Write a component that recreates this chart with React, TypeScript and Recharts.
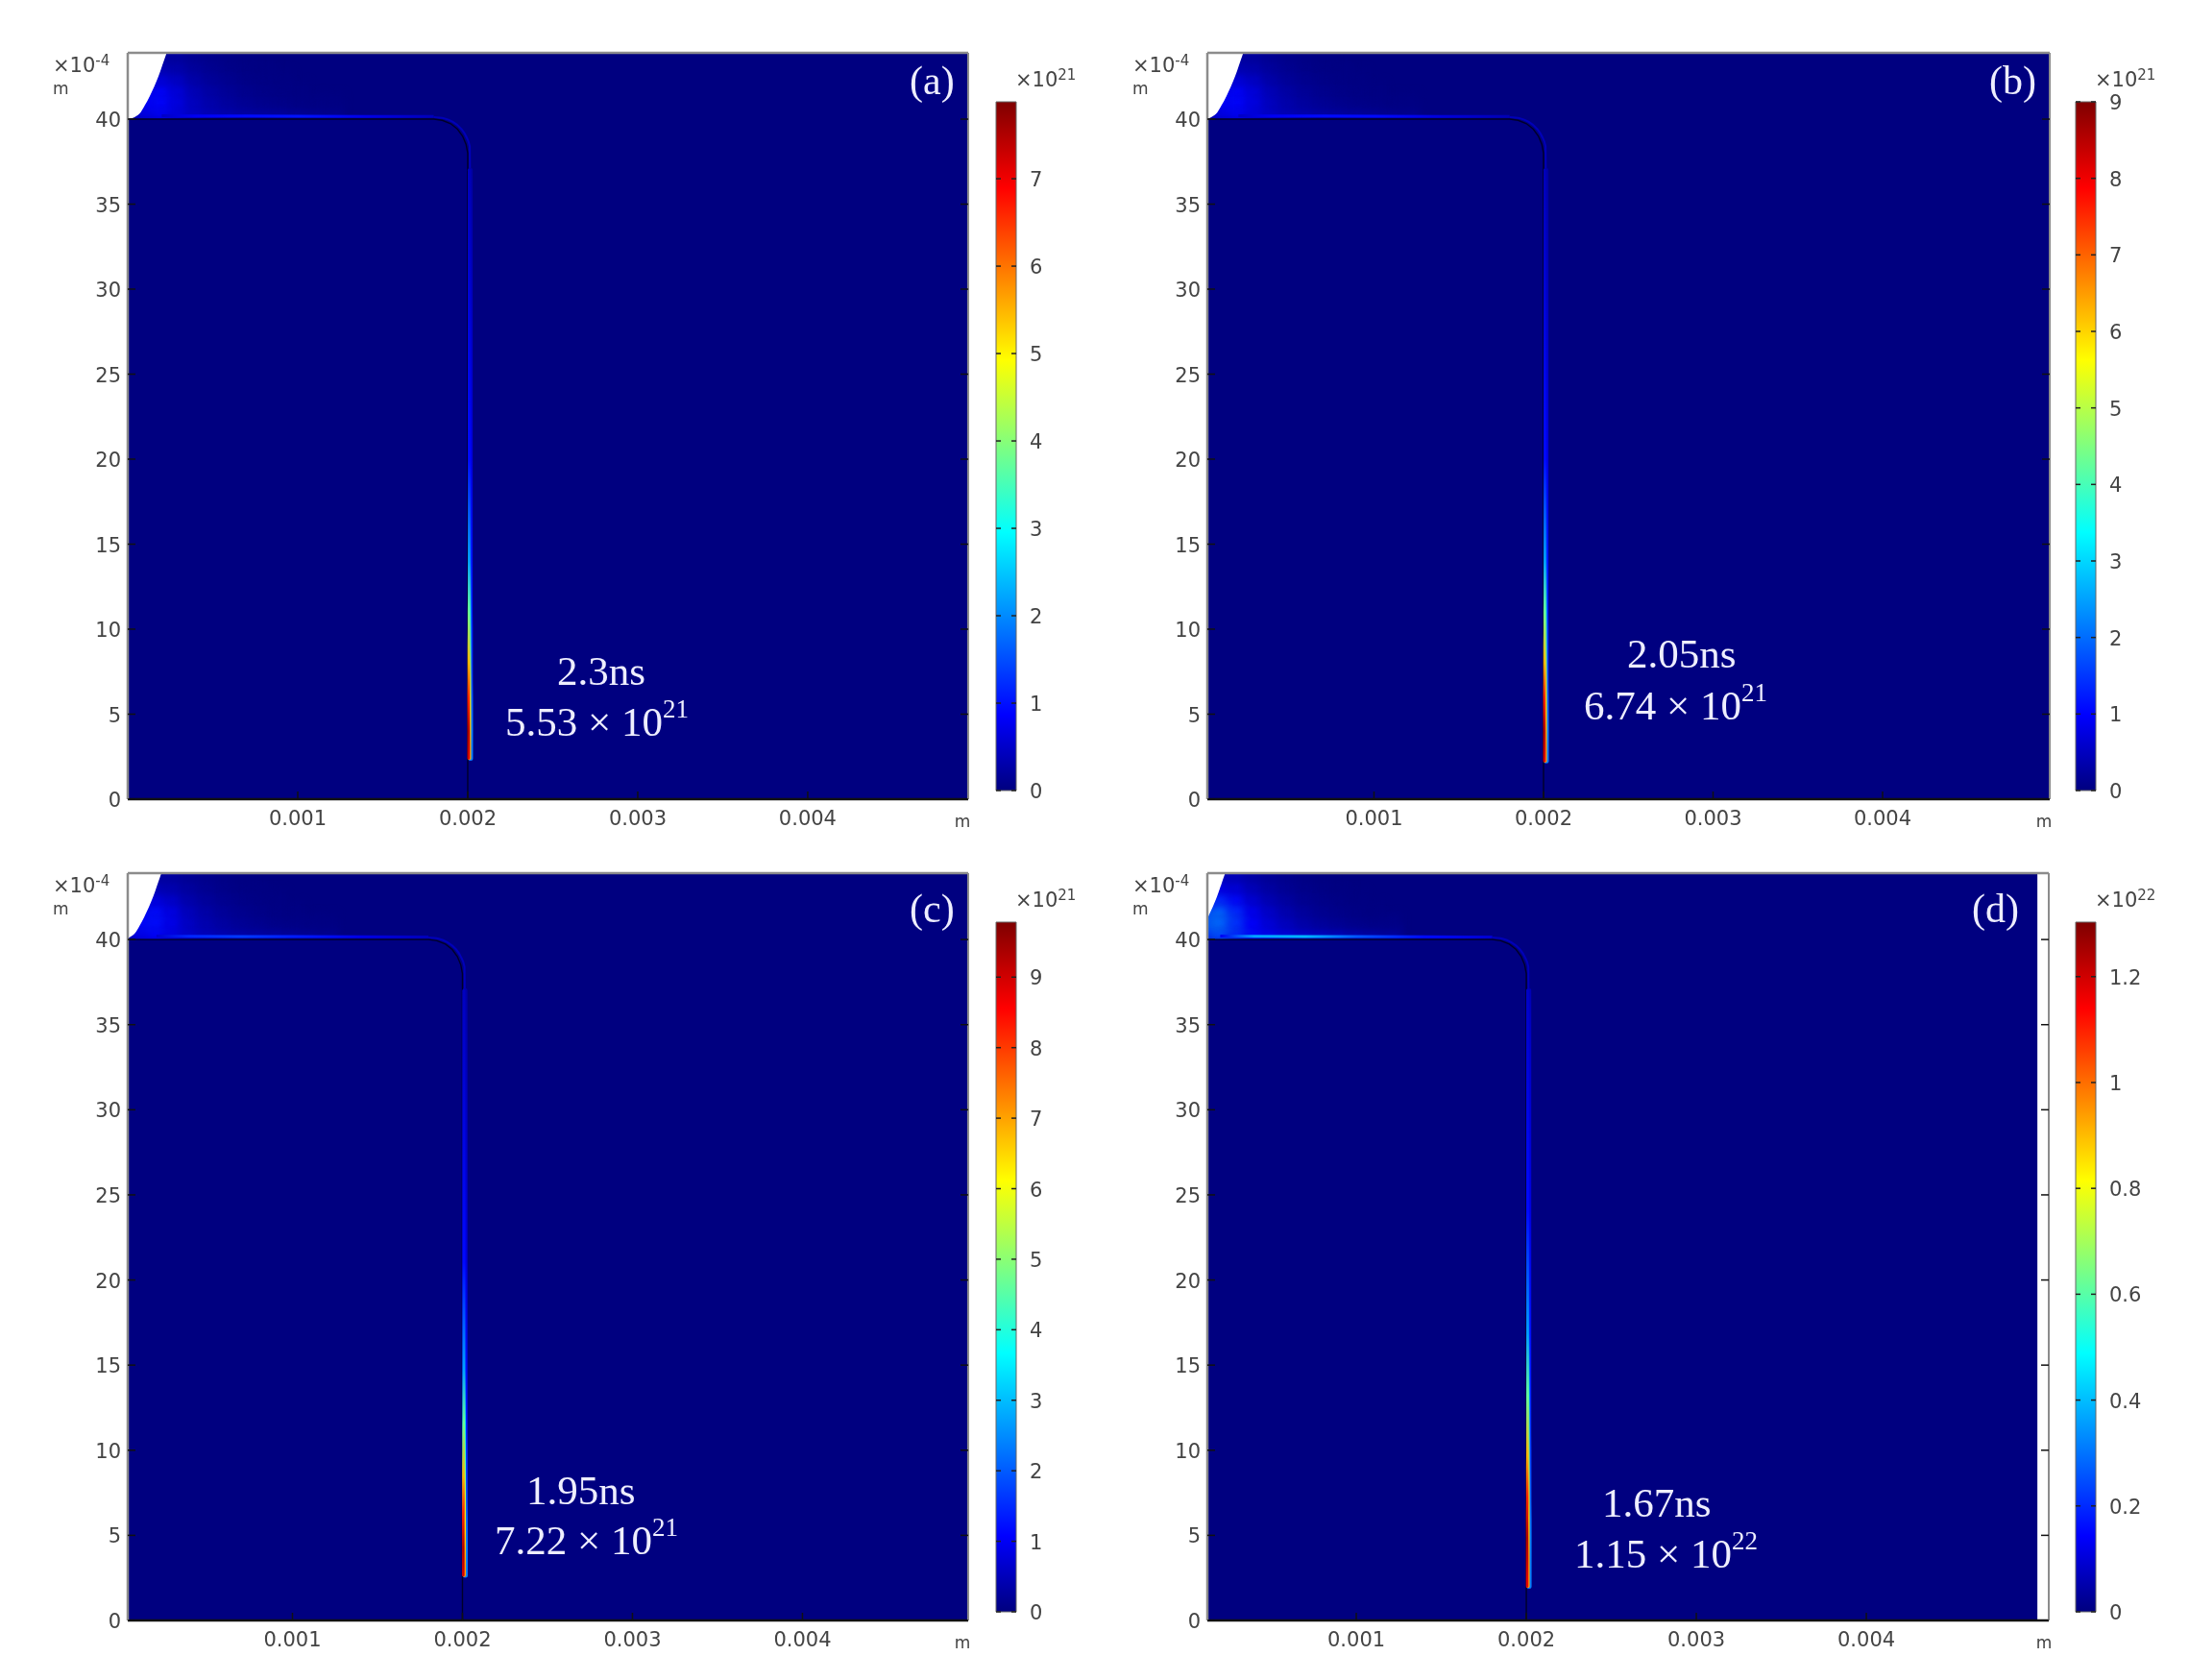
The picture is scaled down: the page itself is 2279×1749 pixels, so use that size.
import { Area, Bar, BarChart, ComposedChart, Line, Scatter, XAxis, YAxis } from "recharts";

const panelTags = ["(a)", "(b)", "(c)", "(d)"];
const panelTimes = ["2.3ns", "2.05ns", "1.95ns", "1.67ns"];
const panelPeaks = ["5.53 × 10", "6.74 × 10", "7.22 × 10", "1.15 × 10"];
const panelPeakExp = ["21", "21", "21", "22"];
const barExponents = ["21", "21", "21", "22"];

const xTicks = [0.001, 0.002, 0.003, 0.004];
const yTicks = [0, 5, 10, 15, 20, 25, 30, 35, 40];
const yTop = 43.9;

const xStart = [0, 0.000017, 0.000031, 0.000124];
const xEnd = [0.004944, 0.004986, 0.004975, 0.005073];
const fieldEnd = [0.004944, 0.004986, 0.004975, 0.005006];

const barMax = [7.88, 9.0, 9.78, 1.303];
const barTicks = [
  [0, 1, 2, 3, 4, 5, 6, 7],
  [0, 1, 2, 3, 4, 5, 6, 7, 8, 9],
  [0, 1, 2, 3, 4, 5, 6, 7, 8, 9],
  [0, 0.2, 0.4, 0.6, 0.8, 1, 1.2],
];

// electrode outline
const wallX = [0, 0.0018, 0.00185, 0.0019, 0.00194, 0.00197, 0.00199, 0.002, 0.002];
const wallY = [40, 40, 39.93, 39.73, 39.41, 39, 38.52, 38, 0];

// needle cut-out in the top left corner
const needleX = [0, 0.00004, 0.000076, 0.0001, 0.00013, 0.00018, 0.000227, 0.00024];
const needleY = [40, 40.12, 40.4, 40.8, 41.36, 42.5, 43.85, 44.2];

// glow next to the needle, rows bottom to top, levels relative to the panel's peak
const glowXs = [0.0001, 0.0002, 0.0003, 0.0004, 0.0005, 0.0006, 0.0007, 0.0008, 0.0009, 0.001, 0.0011, 0.0012];
const glowYs = [40.3, 41.0, 41.7, 42.4, 43.1, 43.8];
const glowLevels = [
  [0.7, 0.85, 0.7, 0.55, 0.45, 0.38, 0.32, 0.28, 0.25, 0.2, 0.16, 0.12],
  [0.95, 1, 0.75, 0.5, 0.36, 0.26, 0.18, 0.13, 0.09, 0.06, 0.04, 0.03],
  [0.9, 1, 0.72, 0.45, 0.3, 0.2, 0.13, 0.08, 0.05, 0.03, 0.01, 0],
  [0.5, 0.72, 0.55, 0.34, 0.22, 0.14, 0.08, 0.05, 0.03, 0.01, 0, 0],
  [0.25, 0.42, 0.36, 0.24, 0.15, 0.09, 0.05, 0.03, 0.01, 0, 0, 0],
  [0.08, 0.25, 0.24, 0.16, 0.1, 0.06, 0.03, 0.01, 0, 0, 0, 0],
];
const glowPeak = [0.115, 0.115, 0.125, 0.22];

// thin bright layer over the flat top of the electrode
const streakX = [0.0002, 0.0004, 0.0007, 0.001, 0.0014, 0.0018];
const streakLevels = [
  [0.06, 0.1, 0.12, 0.13, 0.09, 0.05],
  [0.06, 0.1, 0.12, 0.12, 0.08, 0.045],
  [0.07, 0.15, 0.17, 0.14, 0.09, 0.05],
  [0.1, 0.28, 0.3, 0.2, 0.12, 0.07],
];
const ringX = [0.0018, 0.00186, 0.00191, 0.00196, 0.00199, 0.002012, 0.002014];
const ringY = [40.12, 40.05, 39.85, 39.45, 39, 38.4, 36];

// layer down the vertical wall, three strips from outer to inner
const sheathY = [37, 30, 25, 20, 16, 14, 12, 11, 10, 9, 8, 7, 6, 5, 4, 3, 2];
const sheathOuterX = [0.002015, 0.002015, 0.002015, 0.002015, 0.002015, 0.002015, 0.002015, 0.002015, 0.002016, 0.002016, 0.002016, 0.002016, 0.002017, 0.002017, 0.002017, 0.002017, 0.002017];
const sheathMidX = [0.00201, 0.00201, 0.00201, 0.00201, 0.00201, 0.00201, 0.00201, 0.00201, 0.00201, 0.00201, 0.00201, 0.00201, 0.00201, 0.00201, 0.00201, 0.00201, 0.00201];
const sheathInnerX = [0.002008, 0.002008, 0.002008, 0.002008, 0.002008, 0.002008, 0.002008, 0.002007, 0.002007, 0.002006, 0.002006, 0.002006, 0.002005, 0.002005, 0.002005, 0.002005, 0.002005];
const outerStopsY = [37, 28, 20, 12, 8, 4, 2];
const outerStopsV = [0.03, 0.06, 0.08, 0.13, 0.17, 0.24, 0.24];
const midStopsY = [37, 30, 20, 14, 11, 9, 7, 5, 3, 2];
const midStopsV = [0.04, 0.06, 0.1, 0.18, 0.33, 0.44, 0.56, 0.66, 0.72, 0.72];
const innerStopsY = [37, 20, 14, 11, 8, 6, 4, 3, 2];
const innerStopsV = [0.05, 0.12, 0.28, 0.48, 0.7, 0.84, 0.95, 0.93, 0.9];
const sheathTip = [2.4, 2.25, 2.65, 1.95];
const sheathReach = [1, 1, 1.05, 1.2];

const jetStops: [number, number[]][] = [
  [0, [0, 0, 127]],
  [0.11, [0, 0, 255]],
  [0.375, [0, 255, 255]],
  [0.625, [255, 255, 0]],
  [0.875, [255, 0, 0]],
  [1, [127, 0, 0]],
];

function jet(v: number) {
  for (let i = 1; i < jetStops.length; i++) {
    const [v1, c1] = jetStops[i];
    const [v0, c0] = jetStops[i - 1];
    if (v <= v1) {
      const t = Math.max(0, (v - v0) / (v1 - v0));
      return `rgb(${c0.map((c, k) => Math.round(c + (c1[k] - c) * t)).join(",")})`;
    }
  }
  return "rgb(127,0,0)";
}

const NAVY = "#000080";
const TEXT = "#444";
const FRAME = "#8c8c8c";
const AXIS_FONT = "'DejaVu Sans', sans-serif";
const PX_PER_UNIT = 17.7;

// plot boxes on the page
const plotLeft = [133, 1257, 133, 1257];
const plotRight = [1008, 2134, 1008, 2133];
const plotTop = [55, 55, 909, 909];
const plotBottom = [832, 832, 1687, 1687];
const barLeft = [1037, 2161, 1037, 2161];
const barTop = [106, 106, 960, 960];
const barBottom = [823, 823, 1678, 1678];

function LeftTick({ x, y, payload }: any) {
  return (
    <g>
      <line x1={x} x2={x + 8} y1={y} y2={y} stroke="#111" strokeWidth={1.5} />
      <text x={x - 7} y={y + 1} textAnchor="end" dominantBaseline="central" fill={TEXT} fontSize={21} fontFamily={AXIS_FONT}>
        {payload.value}
      </text>
    </g>
  );
}

function RightTick({ x, y }: any) {
  return <line x1={x - 8} x2={x} y1={y} y2={y} stroke="#111" strokeWidth={1.5} />;
}

function BottomTick({ x, y, payload }: any) {
  return (
    <g>
      <line x1={x} x2={x} y1={y - 8} y2={y} stroke="#111" strokeWidth={1.5} />
      <text x={x} y={y + 27} textAnchor="middle" fill={TEXT} fontSize={21} fontFamily={AXIS_FONT}>
        {payload.value.toFixed(3)}
      </text>
    </g>
  );
}

function TopTick({ x, y }: any) {
  return <line x1={x} x2={x} y1={y} y2={y + 8} stroke="#111" strokeWidth={1.5} />;
}

function BarTick({ x, y, payload }: any) {
  return (
    <g>
      <line x1={x - 21} x2={x - 16} y1={y} y2={y} stroke="#222" strokeWidth={1.5} />
      <line x1={x - 5} x2={x} y1={y} y2={y} stroke="#222" strokeWidth={1.5} />
      <text x={x + 14} y={y + 1} dominantBaseline="central" fill={TEXT} fontSize={21} fontFamily={AXIS_FONT}>
        {payload.value}
      </text>
    </g>
  );
}

function GlowCell({ cx, cy, payload }: any) {
  return (
    <rect
      x={cx - 11}
      y={cy - 8}
      width={22}
      height={16}
      fill={jet(payload.v)}
      style={{ filter: "blur(5px)" }}
    />
  );
}

function Panel({ i }: { i: number }) {
  const chartLeft = plotLeft[i] - 133;
  const chartTop = plotTop[i] - 55;
  const width = plotRight[i] - chartLeft + 30;
  const height = plotBottom[i] - chartTop + 50;
  // one pixel of each side goes to the axis strip
  const margin = { top: 54, left: 132, right: 29, bottom: 49 };
  const pxY = (y: number) => 55 + (yTop - y) * PX_PER_UNIT;

  const fieldRows = [
    { x: xStart[i], band: [0, yTop] },
    { x: fieldEnd[i], band: [0, yTop] },
  ];
  const needleRows = needleX.map((x, k) => ({ x, band: [needleY[k], 44.2] }));
  const bodyRows = wallX.slice(0, 7).map((x, k) => ({ x, band: [0, wallY[k]] }));
  const wallRows = wallX.map((x, k) => ({ x, y: wallY[k] }));
  const glowRows = glowYs.flatMap((y, r) =>
    glowXs.map((x, c) => ({ x, y, v: glowLevels[r][c] * glowPeak[i] })).filter((p) => p.v > 0.002),
  );
  const streakRows = streakX.map((x, k) => ({ x, y: 40.2 - k * 0.01 }));
  const ringRows = ringX.map((x, k) => ({ x, y: ringY[k] }));
  const sheathYs = sheathY.filter((y) => y > sheathTip[i]).concat(sheathTip[i]);
  const outerRows = sheathYs.map((y, k) => ({ x: sheathOuterX[k], y }));
  const midRows = sheathYs.map((y, k) => ({ x: sheathMidX[k], y }));
  const innerRows = sheathYs.map((y, k) => ({ x: sheathInnerX[k], y }));
  const streakSpan = streakX[streakX.length - 1] - streakX[0];

  const sheathGradient = (id: string, ys: number[], vs: number[], reach: number) => (
    <linearGradient id={id} gradientUnits="userSpaceOnUse" x1={0} x2={0} y1={pxY(40)} y2={pxY(0)}>
      {ys.map((y, k) => (
        <stop key={k} offset={Math.min(1, 1 - (y * reach) / 40)} stopColor={jet(vs[k])} />
      ))}
    </linearGradient>
  );

  return (
    <div style={{ position: "absolute", left: chartLeft, top: chartTop }}>
      <ComposedChart width={width} height={height} margin={margin}>
        <defs>
          <linearGradient id={`streak-${i}`} x1={0} x2={1} y1={0} y2={0}>
            {streakLevels[i].map((v, k) => (
              <stop key={k} offset={(streakX[k] - streakX[0]) / streakSpan} stopColor={jet(v)} />
            ))}
          </linearGradient>
          {sheathGradient(`outer-${i}`, outerStopsY, outerStopsV, sheathReach[i])}
          {sheathGradient(`mid-${i}`, midStopsY, midStopsV, sheathReach[i])}
          {sheathGradient(`inner-${i}`, innerStopsY, innerStopsV, sheathReach[i])}
        </defs>

        <XAxis
          type="number"
          dataKey="x"
          domain={[xStart[i], xEnd[i]]}
          ticks={xTicks}
          interval={0}
          height={1}
          allowDataOverflow
          tick={BottomTick}
          tickLine={false}
          tickSize={0}
          tickMargin={0}
          axisLine={{ stroke: "#111", strokeWidth: 2.5 }}
        />
        <XAxis
          xAxisId="top"
          orientation="top"
          type="number"
          domain={[xStart[i], xEnd[i]]}
          ticks={xTicks}
          interval={0}
          height={1}
          allowDataOverflow
          tick={TopTick}
          tickLine={false}
          tickSize={0}
          tickMargin={0}
          axisLine={{ stroke: FRAME, strokeWidth: 2.5 }}
        />
        <YAxis
          type="number"
          dataKey="y"
          domain={[0, yTop]}
          ticks={yTicks}
          interval={0}
          width={1}
          allowDataOverflow
          tick={LeftTick}
          tickLine={false}
          tickSize={0}
          tickMargin={0}
          axisLine={{ stroke: FRAME, strokeWidth: 2.5 }}
        />
        <YAxis
          yAxisId="right"
          orientation="right"
          type="number"
          domain={[0, yTop]}
          ticks={yTicks}
          interval={0}
          width={1}
          allowDataOverflow
          tick={RightTick}
          tickLine={false}
          tickSize={0}
          tickMargin={0}
          axisLine={{ stroke: FRAME, strokeWidth: 2 }}
        />

        <Area data={fieldRows} dataKey="band" type="linear" fill={NAVY} fillOpacity={1} stroke="none" isAnimationActive={false} zIndex={10} />
        <Scatter data={glowRows} shape={GlowCell} isAnimationActive={false} zIndex={20} />
        <Area data={needleRows} dataKey="band" type="monotone" fill="#fff" fillOpacity={1} stroke="none" isAnimationActive={false} zIndex={30} />
        <Area data={bodyRows} dataKey="band" type="linear" fill={NAVY} fillOpacity={1} stroke="none" isAnimationActive={false} zIndex={30} />
        <Line data={streakRows} dataKey="y" type="linear" stroke={`url(#streak-${i})`} strokeWidth={3} dot={false} isAnimationActive={false} zIndex={40} />
        <Line data={ringRows} dataKey="y" type="monotone" stroke={jet(0.05)} strokeWidth={2} dot={false} isAnimationActive={false} zIndex={40} />
        <Line data={wallRows} dataKey="y" type="linear" stroke="#000028" strokeWidth={1.4} dot={false} isAnimationActive={false} zIndex={41} />
        <Line data={outerRows} dataKey="y" type="linear" stroke={`url(#outer-${i})`} strokeWidth={5} strokeLinecap="round" dot={false} isAnimationActive={false} zIndex={42} />
        <Line data={midRows} dataKey="y" type="linear" stroke={`url(#mid-${i})`} strokeWidth={3.5} strokeLinecap="round" dot={false} isAnimationActive={false} zIndex={43} />
        <Line data={innerRows} dataKey="y" type="linear" stroke={`url(#inner-${i})`} strokeWidth={2.6} strokeLinecap="round" dot={false} isAnimationActive={false} zIndex={44} />
      </ComposedChart>
    </div>
  );
}

function ColorBar({ i }: { i: number }) {
  const height = barBottom[i] - barTop[i] + 30;
  const rows = [{ name: "level", value: barMax[i] }];
  return (
    <div style={{ position: "absolute", left: barLeft[i] - 5, top: barTop[i] - 15 }}>
      <BarChart width={80} height={height} data={rows} margin={{ top: 15, bottom: 15, left: 5, right: 53 }} barCategoryGap={0}>
        <defs>
          <linearGradient id={`jet-${i}`} x1={0} x2={0} y1={1} y2={0}>
            {jetStops.map(([v, c]) => (
              <stop key={v} offset={v} stopColor={`rgb(${c.join(",")})`} />
            ))}
          </linearGradient>
        </defs>
        <XAxis dataKey="name" hide />
        <YAxis
          orientation="right"
          type="number"
          domain={[0, barMax[i]]}
          ticks={barTicks[i]}
          interval={0}
          width={1}
          tick={BarTick}
          tickLine={false}
          tickSize={0}
          tickMargin={0}
          axisLine={false}
        />
        <Bar dataKey="value" fill={`url(#jet-${i})`} stroke="#666" strokeWidth={1} isAnimationActive={false} />
      </BarChart>
    </div>
  );
}

// text placed on the page, outside the chart boxes
const tagX = [947, 2071, 947, 2053];
const tagBase = [98, 98, 960, 960];
const timeX = [580, 1694, 548, 1668];
const timeBase = [713, 695, 1566, 1579];
const peakX = [526, 1649, 515, 1639];
const peakBase = [766, 749, 1618, 1632];
const unitX = [1002, 2128, 1002, 2128];
const barExpX = [1057, 2181, 1057, 2181];
const barExpBase = [90, 90, 944, 944];

function Overlay() {
  const serif = "'Liberation Serif', serif";
  return (
    <svg width={2279} height={1749} style={{ position: "absolute", left: 0, top: 0, pointerEvents: "none" }}>
      {panelTags.map((tag, i) => (
        <g key={tag}>
          <text x={tagX[i]} y={tagBase[i]} fill="#eef" fontSize={42} fontFamily={serif}>
            {tag}
          </text>
          <text x={timeX[i]} y={timeBase[i]} fill="#eef" fontSize={43} fontFamily={serif}>
            {panelTimes[i]}
          </text>
          <text x={peakX[i]} y={peakBase[i]} fill="#eef" fontSize={43} fontFamily={serif}>
            {panelPeaks[i]}
            <tspan dy={-19} fontSize={27}>
              {panelPeakExp[i]}
            </tspan>
          </text>
          <text x={plotLeft[i] - 78} y={plotTop[i] + 20} fill={TEXT} fontSize={21} fontFamily={AXIS_FONT}>
            ×10
            <tspan dy={-7} fontSize={15}>
              -4
            </tspan>
          </text>
          <text x={plotLeft[i] - 78} y={plotTop[i] + 43} fill={TEXT} fontSize={17} fontFamily={AXIS_FONT}>
            m
          </text>
          <text x={unitX[i]} y={plotBottom[i] + 29} fill={TEXT} fontSize={17} textAnchor="middle" fontFamily={AXIS_FONT}>
            m
          </text>
          <text x={barExpX[i]} y={barExpBase[i]} fill={TEXT} fontSize={21} fontFamily={AXIS_FONT}>
            ×10
            <tspan dy={-7} fontSize={15}>
              {barExponents[i]}
            </tspan>
          </text>
        </g>
      ))}
    </svg>
  );
}

export default function App() {
  return (
    <div style={{ position: "absolute", left: 0, top: 0, width: 2279, height: 1749, background: "#fff", filter: "blur(0.7px)" }}>
      {panelTags.map((tag, i) => (
        <div key={tag}>
          <Panel i={i} />
          <ColorBar i={i} />
        </div>
      ))}
      <Overlay />
    </div>
  );
}
